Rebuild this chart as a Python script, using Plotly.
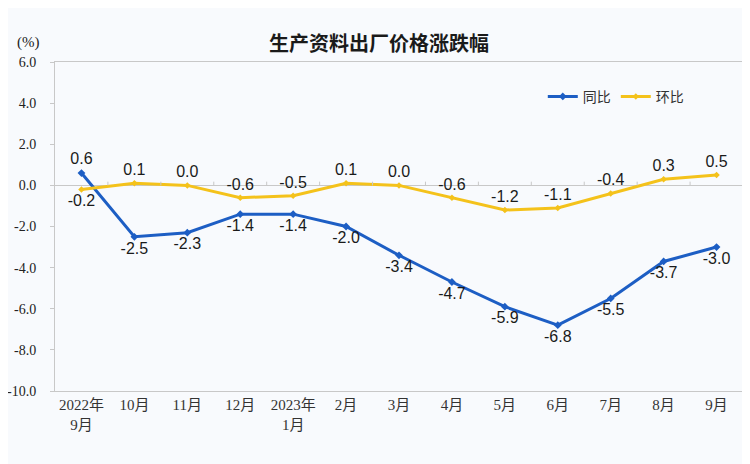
import plotly.graph_objects as go

categories = ["2022年<br>9月", "10月", "11月", "12月", "2023年<br>1月", "2月", "3月",
              "4月", "5月", "6月", "7月", "8月", "9月"]
yoy = [0.6, -2.5, -2.3, -1.4, -1.4, -2.0, -3.4, -4.7, -5.9, -6.8, -5.5, -3.7, -3.0]
mom = [-0.2, 0.1, 0.0, -0.6, -0.5, 0.1, 0.0, -0.6, -1.2, -1.1, -0.4, 0.3, 0.5]
yoy_pos = ["top center"] + ["bottom center"] * 12
mom_pos = ["bottom center"] + ["top center"] * 12
yticks = [6, 4, 2, 0, -2, -4, -6, -8, -10]

blue = "#1d5ec4"
gold = "#f4c21b"
bg = "#f8fafd"
axis_col = "#c8c8c8"

fig = go.Figure()
fig.add_trace(go.Scatter(
    x=categories, y=yoy, name="同比", mode="lines+markers+text",
    line=dict(color=blue, width=3), marker=dict(symbol="diamond", size=6, color=blue),
    text=[f"{v:.1f}" for v in yoy], textposition=yoy_pos,
    textfont=dict(family="Liberation Sans, Arial", size=16, color="#1a1a1a"),
))
fig.add_trace(go.Scatter(
    x=categories, y=mom, name="环比", mode="lines+markers+text",
    line=dict(color=gold, width=3), marker=dict(symbol="diamond", size=5, color=gold),
    text=[f"{v:.1f}" for v in mom], textposition=mom_pos,
    textfont=dict(family="Liberation Sans, Arial", size=16, color="#1a1a1a"),
))

# small tick marks on the zero line between categories
shapes = []
for i in range(len(categories) - 1):
    shapes.append(dict(type="line", xref="x", yref="y", x0=i + 0.5, x1=i + 0.5,
                       y0=0, y1=0.18, line=dict(color=axis_col, width=1)))

fig.update_layout(
    width=750, height=464,
    margin=dict(l=47, r=15, t=54, b=81, autoexpand=False),
    paper_bgcolor=bg, plot_bgcolor=bg,
    showlegend=True,
    legend=dict(orientation="h", x=0.709, y=0.894, xanchor="left", yanchor="middle",
                bgcolor="rgba(0,0,0,0)", itemwidth=30,
                font=dict(family="Noto Sans CJK SC", size=14, color="#333")),
    font=dict(family="Noto Sans CJK SC", size=13, color="#222"),
    shapes=shapes,
    annotations=[
        dict(text="<b>生产资料出厂价格涨跌幅</b>", xref="paper", yref="paper", x=0.471, y=1.0,
             xanchor="center", yanchor="middle", yshift=20, showarrow=False,
             font=dict(family="Noto Sans CJK SC", size=20, color="#1a1a1a")),
        dict(text="(%)", xref="paper", yref="paper", x=-0.038, y=1.0,
             xanchor="center", yanchor="middle", yshift=20, showarrow=False,
             font=dict(family="Liberation Serif", size=15, color="#222")),
    ],
)
fig.update_xaxes(
    type="category", showgrid=False, showline=True, linecolor=axis_col, mirror=True,
    ticks="", tickfont=dict(family="Liberation Serif, Noto Sans CJK SC", size=15, color="#333"),
    range=[-0.5, 12.5], zeroline=False, automargin=False,
)
fig.update_yaxes(
    range=[-10, 6], tickvals=yticks, ticktext=[f"{v:.1f}" for v in yticks],
    showgrid=False, showline=True, linecolor=axis_col, mirror=True,
    ticks="outside", ticklen=4, tickcolor=axis_col, ticklabelstandoff=11,
    zeroline=True, zerolinecolor=axis_col, zerolinewidth=1, automargin=False,
    tickfont=dict(family="Liberation Serif", size=14, color="#222"),
)
fig.write_html("out.html")
